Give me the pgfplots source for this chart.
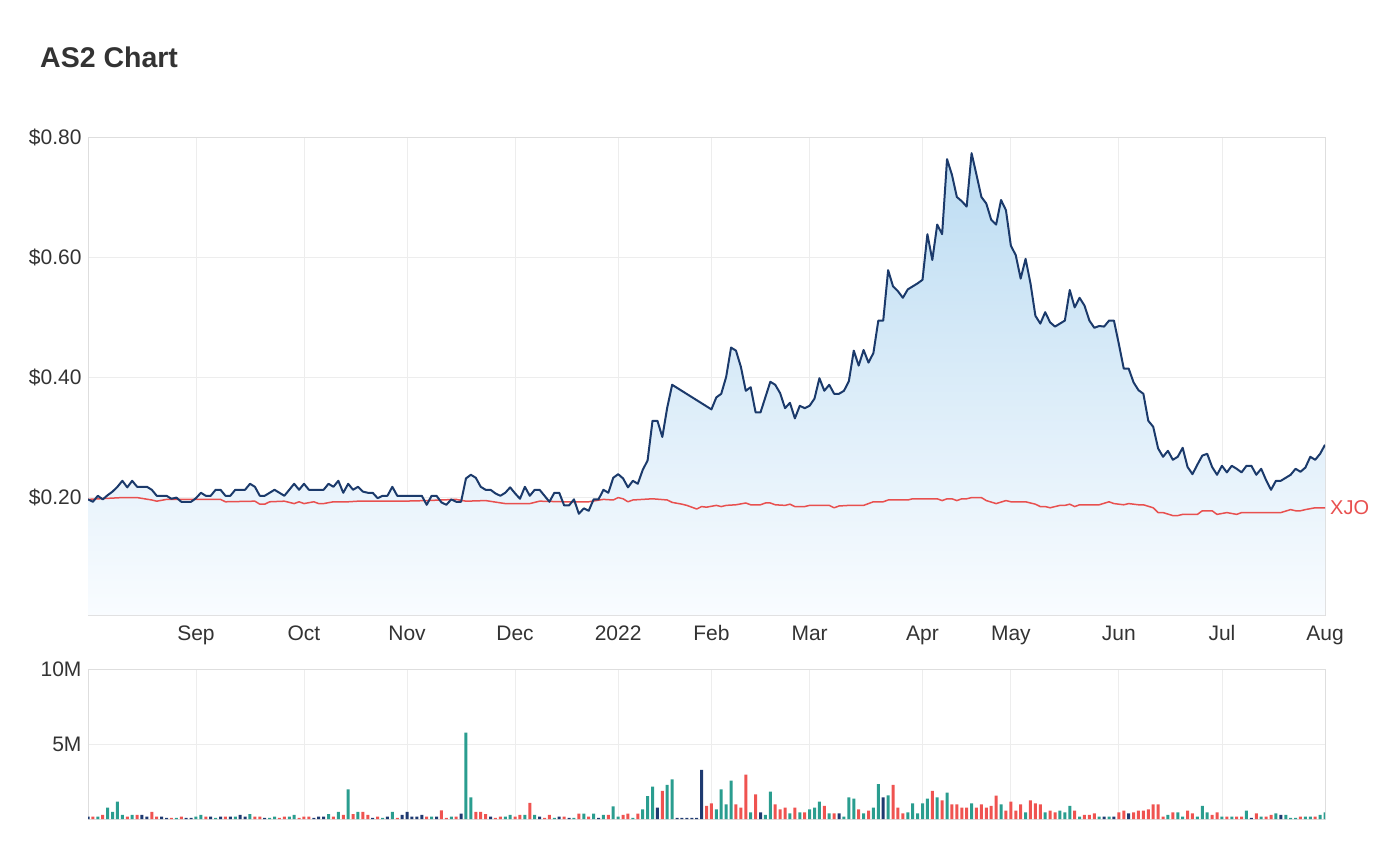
\documentclass[border=0pt]{standalone}
\usepackage{fontspec}
\setmainfont{Liberation Sans}
\usepackage{pgfplots}
\pgfplotsset{compat=1.18}
\usepackage{pgfplotstable}

\definecolor{pnavy}{HTML}{1B3A6B}
\definecolor{xjored}{HTML}{E8504F}
\definecolor{vteal}{HTML}{2A9D8F}
\definecolor{vred}{HTML}{EF5350}
\definecolor{vnavy}{HTML}{1E3A70}
\definecolor{gridc}{HTML}{EDEDED}
\definecolor{framec}{HTML}{DEDEDE}
\definecolor{labc}{HTML}{333333}
\definecolor{ftop}{RGB}{188,220,242}
\definecolor{fbot}{RGB}{249,252,255}

\pgfplotstableread{
x y
0 0.196
1 0.192
2 0.202
3 0.196
4 0.203
5 0.209
6 0.217
7 0.227
8 0.216
9 0.227
10 0.217
12 0.217
13 0.212
14 0.202
16 0.202
17 0.197
18 0.199
19 0.192
21 0.192
22 0.198
23 0.207
24 0.202
25 0.202
26 0.212
27 0.212
28 0.202
29 0.202
30 0.212
32 0.212
33 0.222
34 0.217
35 0.202
36 0.202
38 0.212
39 0.207
40 0.202
42 0.222
43 0.212
44 0.222
45 0.212
48 0.212
49 0.222
50 0.217
51 0.227
52 0.207
53 0.222
54 0.212
55 0.217
56 0.209
57 0.207
58 0.207
59 0.198
60 0.202
61 0.202
62 0.217
63 0.202
68 0.202
69 0.187
70 0.202
71 0.202
72 0.191
73 0.187
74 0.196
75 0.192
76 0.192
77 0.231
78 0.237
79 0.232
80 0.217
81 0.212
82 0.212
83 0.206
84 0.202
85 0.207
86 0.216
87 0.206
88 0.197
89 0.217
90 0.202
91 0.212
92 0.212
93 0.202
94 0.192
95 0.207
96 0.207
97 0.186
98 0.186
99 0.196
100 0.172
101 0.181
102 0.177
103 0.196
104 0.196
105 0.212
106 0.207
107 0.232
108 0.238
109 0.231
110 0.216
111 0.227
112 0.222
113 0.245
114 0.261
115 0.327
116 0.327
117 0.300
118 0.349
119 0.387
127 0.346
128 0.366
129 0.372
130 0.400
131 0.449
132 0.444
133 0.417
134 0.377
135 0.383
136 0.341
137 0.341
139 0.392
140 0.387
141 0.373
142 0.348
143 0.357
144 0.331
145 0.352
146 0.348
147 0.352
148 0.364
149 0.398
150 0.377
151 0.387
152 0.372
153 0.372
154 0.377
155 0.393
156 0.444
157 0.419
158 0.445
159 0.424
160 0.440
161 0.494
162 0.494
163 0.578
164 0.551
165 0.543
166 0.532
167 0.546
168 0.551
169 0.556
170 0.562
171 0.638
172 0.595
173 0.654
174 0.638
175 0.763
176 0.737
177 0.700
178 0.693
179 0.684
180 0.773
181 0.737
182 0.700
183 0.689
184 0.662
185 0.654
186 0.695
187 0.678
188 0.619
189 0.603
190 0.564
191 0.597
192 0.556
193 0.502
194 0.489
195 0.508
196 0.491
197 0.484
198 0.489
199 0.494
200 0.545
201 0.516
202 0.532
203 0.519
204 0.494
205 0.482
206 0.485
207 0.484
208 0.494
209 0.494
210 0.455
211 0.414
212 0.414
213 0.391
214 0.378
215 0.372
216 0.327
217 0.317
218 0.281
219 0.267
220 0.277
221 0.262
222 0.267
223 0.282
224 0.250
225 0.238
226 0.254
227 0.269
228 0.272
229 0.250
230 0.237
231 0.252
232 0.241
233 0.252
234 0.247
235 0.241
236 0.252
237 0.252
238 0.237
239 0.247
240 0.228
241 0.212
242 0.227
243 0.227
244 0.232
245 0.237
246 0.247
247 0.242
248 0.249
249 0.267
250 0.262
251 0.272
252 0.287
}\pricetable

\pgfplotstableread{
x y
0 0.196
7 0.199
10 0.199
13 0.195
14 0.193
16 0.196
27 0.196
28 0.192
34 0.193
35 0.188
36 0.188
37 0.192
40 0.193
42 0.189
43 0.192
44 0.189
46 0.192
47 0.189
48 0.189
50 0.192
53 0.192
55 0.193
64 0.193
69 0.194
75 0.196
77 0.193
81 0.194
85 0.189
90 0.189
92 0.193
97 0.192
102 0.192
105 0.196
107 0.195
108 0.199
109 0.197
110 0.192
111 0.195
115 0.197
118 0.195
119 0.191
121 0.188
122 0.186
124 0.180
125 0.184
126 0.183
128 0.186
129 0.184
130 0.186
132 0.187
134 0.190
135 0.187
137 0.187
138 0.190
139 0.190
140 0.187
142 0.186
143 0.188
144 0.184
146 0.184
147 0.186
151 0.186
152 0.182
153 0.185
155 0.186
158 0.186
160 0.192
162 0.192
163 0.195
167 0.195
168 0.197
173 0.197
174 0.194
175 0.197
176 0.197
177 0.194
178 0.197
179 0.197
180 0.199
182 0.199
183 0.194
185 0.189
187 0.194
188 0.192
191 0.192
193 0.188
194 0.184
195 0.184
196 0.182
198 0.186
199 0.186
200 0.188
201 0.184
202 0.187
204 0.187
206 0.187
208 0.192
209 0.189
211 0.187
212 0.189
214 0.187
215 0.187
217 0.182
218 0.174
219 0.174
221 0.169
222 0.169
223 0.171
226 0.171
227 0.177
229 0.177
230 0.171
232 0.174
234 0.171
235 0.174
243 0.174
245 0.179
246 0.177
247 0.177
248 0.179
250 0.182
252 0.182
}\xjotable

\pgfplotstableread{
x v
2 0.16
4 0.76
5 0.47
6 1.16
7 0.27
9 0.27
18 0.07
22 0.16
23 0.27
26 0.07
30 0.16
33 0.33
37 0.07
38 0.16
41 0.16
42 0.27
49 0.33
51 0.47
53 1.98
55 0.47
60 0.07
62 0.47
70 0.16
74 0.16
77 5.76
78 1.44
85 0.16
86 0.27
89 0.27
91 0.27
95 0.07
99 0.07
101 0.36
103 0.36
105 0.27
107 0.84
108 0.16
111 0.07
113 0.64
114 1.53
115 2.16
118 2.27
119 2.64
128 0.64
129 1.98
130 0.98
131 2.56
135 0.44
138 0.27
139 1.82
143 0.38
145 0.44
147 0.64
148 0.76
149 1.16
151 0.38
154 0.16
155 1.44
156 1.36
158 0.38
160 0.76
161 2.33
163 1.58
167 0.44
168 1.04
169 0.38
170 1.04
171 1.36
173 1.44
175 1.76
180 1.04
186 0.98
191 0.44
195 0.44
198 0.56
199 0.44
200 0.87
202 0.16
206 0.16
208 0.16
220 0.27
222 0.44
223 0.16
226 0.16
227 0.87
228 0.44
231 0.16
233 0.16
236 0.56
239 0.16
242 0.38
244 0.27
245 0.07
246 0.07
248 0.16
249 0.16
251 0.27
252 0.44
}\volteal

\pgfplotstableread{
x v
1 0.16
3 0.27
8 0.16
10 0.27
13 0.47
14 0.16
17 0.07
19 0.16
24 0.16
28 0.16
34 0.16
35 0.16
39 0.07
40 0.16
43 0.07
44 0.16
45 0.16
50 0.16
52 0.27
54 0.33
56 0.47
57 0.27
59 0.16
63 0.07
69 0.16
72 0.58
73 0.07
75 0.16
79 0.47
80 0.47
81 0.33
83 0.07
84 0.16
87 0.16
88 0.27
90 1.07
93 0.07
94 0.27
97 0.16
100 0.36
102 0.16
106 0.27
109 0.27
110 0.36
112 0.36
117 1.87
126 0.87
127 1.04
132 0.98
133 0.76
134 2.96
136 1.64
140 0.98
141 0.64
142 0.76
144 0.76
146 0.44
150 0.87
152 0.38
157 0.64
159 0.56
164 2.27
165 0.76
166 0.38
172 1.87
174 1.24
176 0.98
177 0.98
178 0.76
179 0.76
181 0.76
182 0.98
183 0.76
184 0.87
185 1.56
187 0.56
188 1.16
189 0.56
190 0.98
192 1.24
193 1.04
194 0.98
196 0.56
197 0.44
201 0.56
203 0.27
204 0.27
205 0.38
210 0.44
211 0.56
213 0.44
214 0.56
215 0.56
216 0.64
217 0.98
218 0.98
219 0.16
221 0.44
224 0.56
225 0.38
229 0.27
230 0.44
232 0.16
234 0.16
235 0.16
238 0.38
240 0.16
241 0.27
247 0.16
250 0.16
}\volred

\pgfplotstableread{
x v
0 0.16
11 0.27
12 0.16
15 0.16
16 0.07
20 0.07
21 0.07
25 0.16
27 0.16
29 0.16
31 0.27
32 0.16
36 0.07
46 0.07
47 0.16
48 0.16
58 0.07
61 0.16
64 0.27
65 0.47
66 0.16
67 0.16
68 0.27
71 0.16
76 0.36
82 0.16
92 0.16
96 0.16
98 0.07
104 0.07
116 0.76
120 0.07
121 0.07
122 0.07
123 0.07
124 0.07
125 3.27
137 0.44
153 0.38
162 1.44
207 0.16
209 0.16
212 0.38
237 0.07
243 0.27
}\volnavy

\pgfplotsset{
  base/.style={
    scale only axis, width=1237pt, xmin=0, xmax=252,
    anchor=south west,
    axis line style={draw=framec, line width=0.8pt},
    grid=major, major grid style={draw=gridc, line width=0.8pt},
    major tick length=0pt,
    xtick={22,44,65,87,108,127,147,170,188,210,231,252},
    tick label style={font=\fontsize{21}{25}\selectfont, text=labc},
    /pgf/number format/assume math mode=true,
    yticklabel style={anchor=east, xshift=-3pt},
    clip mode=individual,
  }
}

\begin{document}
\begin{tikzpicture}
\path[use as bounding box] (0pt,0pt) rectangle (1399pt,844pt);
\node[anchor=base west, font=\bfseries\fontsize{28.5}{32}\selectfont, text=labc, inner sep=0pt] at (40pt,776pt) {AS2 Chart};

\begin{axis}[base, at={(88pt,229pt)}, height=478pt,
  ymin=0.0033, ymax=0.8,
  ytick={0.2,0.4,0.6,0.8},
  yticklabels={\$0.20,\$0.40,\$0.60,\$0.80},
  xticklabels={Sep,Oct,Nov,Dec,2022,Feb,Mar,Apr,May,Jun,Jul,Aug},
  xticklabel style={anchor=base, yshift=-25pt},
]
\addplot[draw=none, top color=ftop, bottom color=fbot] table[x=x,y=y] {\pricetable} \closedcycle;
\addplot[xjored, line width=1.5pt, line join=round] table[x=x,y=y] {\xjotable};
\addplot[pnavy, line width=2pt, line join=round] table[x=x,y=y] {\pricetable};
\node[anchor=west, text=xjored, font=\fontsize{20}{24}\selectfont, inner sep=0pt] at (axis cs:252,0.182) {\hspace{5pt}XJO};
\end{axis}

\begin{axis}[base, at={(88pt,25pt)}, height=150pt,
  ymin=0, ymax=10,
  ytick={5,10}, yticklabels={5M,10M},
  xticklabels={},
]
\addplot[ybar, bar width=3pt, bar shift=0pt, fill=vteal, draw=none] table[x=x,y=v] {\volteal};
\addplot[ybar, bar width=3pt, bar shift=0pt, fill=vred, draw=none] table[x=x,y=v] {\volred};
\addplot[ybar, bar width=3pt, bar shift=0pt, fill=vnavy, draw=none] table[x=x,y=v] {\volnavy};
\end{axis}
\end{tikzpicture}
\end{document}
